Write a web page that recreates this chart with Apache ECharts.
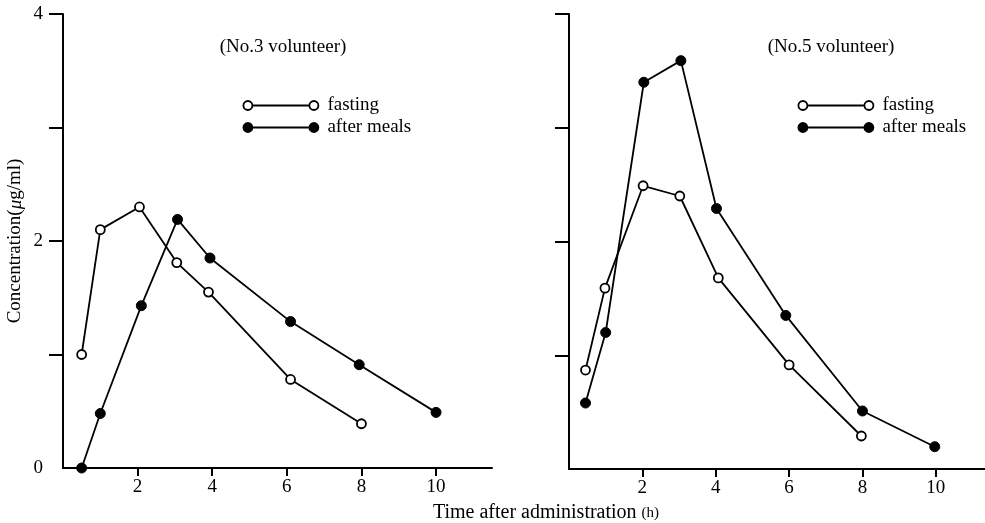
<!DOCTYPE html>
<html>
<head>
<meta charset="utf-8">
<title>Concentration after administration</title>
<script src="https://cdn.jsdelivr.net/npm/echarts@6/dist/echarts.min.js"></script>
<style>
  html, body { margin: 0; padding: 0; background: #fff; }
  #main { width: 985px; height: 523px; }
</style>
</head>
<body>
<div id="main"></div>
<script>
// No.3 volunteer
var v3FastTime  = [0.5, 1.0, 2.05, 3.05, 3.9, 6.1, 8.0];
var v3FastConc  = [1.0, 2.1, 2.3, 1.81, 1.55, 0.78, 0.39];
var v3MealTime  = [0.5, 1.0, 2.1, 3.07, 3.94, 6.1, 7.94, 10.0];
var v3MealConc  = [0, 0.48, 1.43, 2.19, 1.85, 1.29, 0.91, 0.49];

// No.5 volunteer
var v5FastTime  = [0.45, 0.98, 2.02, 3.02, 4.07, 6.0, 7.97];
var v5FastConc  = [0.87, 1.59, 2.49, 2.40, 1.68, 0.915, 0.29];
var v5MealTime  = [0.45, 1.0, 2.04, 3.05, 4.02, 5.91, 8.0, 9.97];
var v5MealConc  = [0.58, 1.20, 3.40, 3.59, 2.29, 1.35, 0.51, 0.196];

var xTicks = [2, 4, 6, 8, 10];
var yTicks = [1, 2, 3, 4];
var yLabels = [0, 2, 4];

var FONT = "'Liberation Serif', 'DejaVu Serif', serif";

function pairs(xs, ys) {
    return xs.map(function (x, i) { return [x, ys[i]]; });
}

// legend icon: two circles joined by a line
var legendIcon = 'path://M0 4.5A4.5 4.5 0 1 1 9 4.5A4.5 4.5 0 1 1 0 4.5ZM9 4.5L66 4.5M66 4.5A4.5 4.5 0 1 1 75 4.5A4.5 4.5 0 1 1 66 4.5Z';

function makeLegend(left) {
    return {
        left: left,
        top: 96,
        padding: 0,
        orient: 'vertical',
        itemWidth: 75,
        itemHeight: 9,
        itemGap: 3,
        symbolKeepAspect: false,
        selectedMode: false,
        textStyle: { fontFamily: FONT, fontSize: 19, color: '#000', padding: [0, 0, 0, 4] },
        data: [
            { name: 'fasting', icon: legendIcon, itemStyle: { color: '#fff', borderColor: '#000', borderWidth: 1.8 } },
            { name: 'after meals', icon: legendIcon, itemStyle: { color: '#000', borderColor: '#000', borderWidth: 1.8 } }
        ]
    };
}

function xAxisOf(idx, max) {
    return {
        gridIndex: idx,
        type: 'value',
        min: 0,
        max: max,
        axisLine: { lineStyle: { color: '#000', width: 2 } },
        axisTick: { customValues: xTicks, length: 8, lineStyle: { color: '#000', width: 2 } },
        axisLabel: { customValues: xTicks, margin: 10, color: '#000', fontFamily: FONT, fontSize: 19 },
        splitLine: { show: false }
    };
}

function yAxisOf(idx, showLabel) {
    var axis = {
        gridIndex: idx,
        type: 'value',
        min: 0,
        max: 4,
        axisLine: { show: true, lineStyle: { color: '#000', width: 2 } },
        axisTick: { show: true, customValues: yTicks, length: 14, lineStyle: { color: '#000', width: 2 } },
        axisLabel: { show: showLabel, customValues: yLabels, margin: 20, color: '#000', fontFamily: FONT, fontSize: 19 },
        splitLine: { show: false }
    };
    if (showLabel) {
        axis.name = 'Concentration({i|μ}g/ml)';
        axis.nameLocation = 'middle';
        axis.nameGap = 38;
        axis.nameTextStyle = {
            color: '#000', fontFamily: FONT, fontSize: 19,
            rich: { i: { fontFamily: FONT, fontSize: 19, fontStyle: 'italic', color: '#000' } }
        };
    }
    return axis;
}

function lineSeries(name, data, idx, open) {
    return {
        name: name,
        type: 'line',
        xAxisIndex: idx,
        yAxisIndex: idx,
        data: data,
        symbol: 'circle',
        symbolSize: open ? 9 : 10,
        showAllSymbol: true,
        lineStyle: { color: '#000', width: 1.8 },
        itemStyle: open
            ? { color: '#fff', borderColor: '#000', borderWidth: 1.8 }
            : { color: '#000', borderColor: '#000', borderWidth: 1 },
        emphasis: { disabled: true },
        z: 3
    };
}

var chart = echarts.init(document.getElementById('main'), null, { renderer: 'canvas' });

var option = {
    backgroundColor: '#ffffff',
    animation: false,
    grid: [
        { left: 63, top: 14, width: 429, height: 454 },
        { left: 569, top: 14, width: 416, height: 455 }
    ],
    xAxis: [xAxisOf(0, 11.5), xAxisOf(1, 11.34)],
    yAxis: [yAxisOf(0, true), yAxisOf(1, false)],
    legend: [makeLegend(242.5), makeLegend(797.5)],
    graphic: [
        { type: 'text', x: 283, y: 47, style: { text: '(No.3 volunteer)', font: '19px ' + FONT, fill: '#000', align: 'center', verticalAlign: 'middle' } },
        { type: 'text', x: 831, y: 47, style: { text: '(No.5 volunteer)', font: '19px ' + FONT, fill: '#000', align: 'center', verticalAlign: 'middle' } },
        {
            type: 'text', x: 546, y: 513,
            style: {
                text: 'Time after administration {s|(h)}',
                font: '20px ' + FONT, fill: '#000', align: 'center', verticalAlign: 'middle',
                rich: { s: { font: '15px ' + FONT, fill: '#000' } }
            }
        }
    ],
    series: [
        lineSeries('fasting', pairs(v3FastTime, v3FastConc), 0, true),
        lineSeries('after meals', pairs(v3MealTime, v3MealConc), 0, false),
        lineSeries('fasting', pairs(v5FastTime, v5FastConc), 1, true),
        lineSeries('after meals', pairs(v5MealTime, v5MealConc), 1, false)
    ]
};

chart.setOption(option);
</script>
</body>
</html>
